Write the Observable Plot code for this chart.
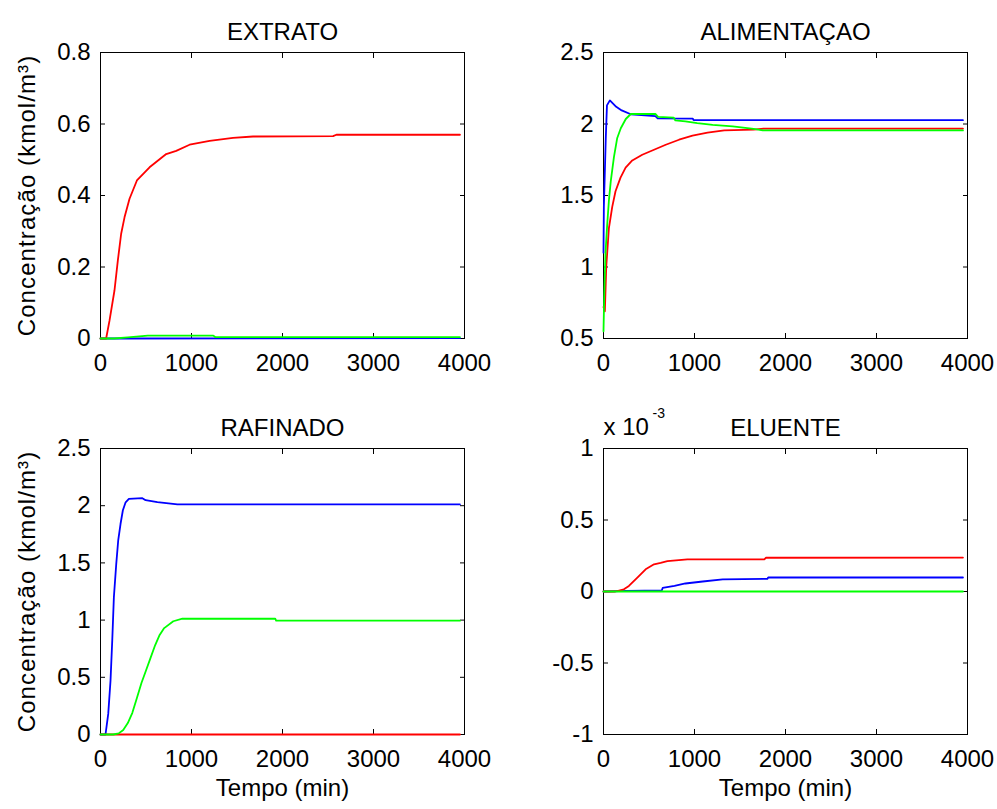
<!DOCTYPE html>
<html>
<head>
<meta charset="utf-8">
<script src="https://cdn.jsdelivr.net/npm/d3@7"></script>
<script src="https://cdn.jsdelivr.net/npm/@observablehq/plot@0.6"></script>
<style>
  body { margin: 0; background: #fff; }
  #fig { position: relative; width: 997px; height: 809px; background: #fff; overflow: hidden; }
  .cell { position: absolute; }
  .cell svg { overflow: visible; max-width: none; }
</style>
</head>
<body>
<div id="fig"></div>
<script>
// Time axis (min)
const tempoTicks = [0, 1000, 2000, 3000, 4000];

// Panel titles and axis texts
const titles = ["EXTRATO", "ALIMENTAÇAO", "RAFINADO", "ELUENTE"];
const yLabel = "Concentração (kmol/m³)";
const xLabel = "Tempo (min)";

// Y tick values per panel
const extratoTicks = [0, 0.2, 0.4, 0.6, 0.8];
const alimentacaoTicks = [0.5, 1, 1.5, 2, 2.5];
const rafinadoTicks = [0, 0.5, 1, 1.5, 2, 2.5];
const eluenteTicks = [-1, -0.5, 0, 0.5, 1];

// EXTRATO concentrations [t (min), C (kmol/m³)]
const extratoRed = [[0,0],[62,0],[99,0.05],[154,0.135],[191,0.219],[227,0.293],[264,0.339],[319,0.391],[400,0.442],[539,0.479],[722,0.516],[832,0.525],[979,0.542],[1199,0.553],[1456,0.561],[1676,0.565],[2556,0.566],[2592,0.570],[3950,0.570]];
const extratoGreen = [[0,0],[150,0],[300,0.003],[520,0.008],[1240,0.008],[1260,0.004],[3950,0.004]];
const extratoBlue = [[0,0],[250,0],[3950,0.001]];

// ALIMENTAÇAO concentrations
const alimentacaoBlue = [[0,1.1],[4,1.42],[25,1.9],[38,2.13],[70,2.165],[140,2.12],[200,2.095],[300,2.068],[570,2.055],[595,2.04],[980,2.038],[990,2.027],[3950,2.027]];
const alimentacaoGreen = [[0,0.55],[8,0.8],[22,1.1],[40,1.29],[60,1.47],[80,1.6],[115,1.77],[150,1.9],[190,1.97],[245,2.035],[300,2.07],[570,2.07],[600,2.05],[770,2.045],[790,2.025],[900,2.018],[1030,2.006],[1200,1.994],[1420,1.983],[1650,1.966],[1750,1.955],[3950,1.955]];
const alimentacaoRed = [[0,0.72],[15,0.69],[30,1.0],[59,1.27],[96,1.42],[132,1.53],[187,1.625],[243,1.695],[316,1.745],[426,1.785],[555,1.82],[684,1.855],[830,1.89],[978,1.918],[1143,1.94],[1327,1.955],[1650,1.96],[1760,1.968],[3950,1.968]];

// RAFINADO concentrations
const rafinadoBlue = [[0,0],[55,0],[85,0.18],[110,0.47],[129,0.82],[147,1.2],[173,1.49],[195,1.7],[220,1.84],[246,1.96],[276,2.03],[312,2.06],[460,2.066],[496,2.048],[625,2.031],[845,2.012],[3950,2.012]];
const rafinadoGreen = [[0,0],[140,0],[200,0.01],[250,0.04],[300,0.1],[350,0.19],[400,0.32],[450,0.45],[500,0.56],[550,0.67],[600,0.78],[650,0.87],[700,0.93],[800,0.99],[900,1.012],[1920,1.012],[1930,0.995],[3950,0.995]];
const rafinadoRed = [[0,0],[3950,0]];

// ELUENTE concentrations, in units of 10^-3 kmol/m³
const eluenteBlue = [[0,0],[260,0.004],[640,0.007],[650,0.025],[780,0.04],[900,0.056],[1090,0.07],[1310,0.085],[1800,0.088],[1810,0.098],[3950,0.098]];
const eluenteRed = [[0,0],[130,0],[224,0.015],[279,0.039],[372,0.097],[463,0.155],[555,0.19],[628,0.2],[702,0.212],[922,0.224],[1767,0.225],[1786,0.236],[3950,0.237]];
const eluenteGreen = [[0,0],[3950,0]];

const FONT = "'Liberation Sans', Arial, Helvetica, sans-serif";
const FS = 24;
const TICK = 5;
const fmt = d => String(d);

function panel({left, top, width, height, margin, title, yDomain, yTicks, series, showYLabel, showXLabel, exponent}) {
  const [mt, mr, mb, ml] = margin;
  const marks = [
    Plot.frame({stroke: "black", strokeWidth: 1}),
    // tick labels
    Plot.axisX(tempoTicks, {anchor: "bottom", tickSize: 0, tickPadding: 15, tickFormat: fmt, label: null, fontSize: FS, fill: "black"}),
    Plot.axisY(yTicks, {anchor: "left", tickSize: 0, tickPadding: 10, tickFormat: fmt, label: null, fontSize: FS, fill: "black"}),
    // inward tick marks on all four sides of the box
    Plot.axisX(tempoTicks, {anchor: "bottom", tickSize: TICK, insetBottom: TICK, fill: "none", stroke: "black", label: null}),
    Plot.axisX(tempoTicks, {anchor: "top", tickSize: TICK, insetTop: TICK, fill: "none", stroke: "black", label: null}),
    Plot.axisY(yTicks, {anchor: "left", tickSize: TICK, insetLeft: TICK, fill: "none", stroke: "black", label: null}),
    Plot.axisY(yTicks, {anchor: "right", tickSize: TICK, insetRight: TICK, fill: "none", stroke: "black", label: null}),
    ...series.map(([data, color]) => Plot.line(data, {x: d => d[0], y: d => d[1], stroke: color, strokeWidth: 1.8})),
    Plot.text([title], {text: d => d, frameAnchor: "top", dy: -30, fontSize: FS, fill: "black"})
  ];
  if (showYLabel) {
    marks.push(Plot.text([yLabel], {text: d => d, frameAnchor: "left", textAnchor: "middle", rotate: -90, dx: -73, fontSize: FS, fill: "black"}));
  }
  if (showXLabel) {
    marks.push(Plot.text([xLabel], {text: d => d, frameAnchor: "bottom", dy: 61, fontSize: FS, fill: "black"}));
  }
  if (exponent) {
    marks.push(Plot.text(["x 10"], {text: d => d, frameAnchor: "top-left", textAnchor: "start", lineAnchor: "bottom", dy: -14, fontSize: FS, fill: "black"}));
    marks.push(Plot.text(["-3"], {text: d => d, frameAnchor: "top-left", textAnchor: "start", lineAnchor: "bottom", dx: 49, dy: -31, fontSize: 14, fill: "black"}));
  }
  const svg = Plot.plot({
    width, height,
    marginTop: mt, marginRight: mr, marginBottom: mb, marginLeft: ml,
    style: {background: "transparent", fontFamily: FONT, fontSize: FS + "px", color: "black"},
    x: {domain: [0, 4000]},
    y: {domain: yDomain},
    marks
  });
  // slightly wider tracking for the rotated concentration label
  d3.select(svg).selectAll("text")
    .filter(function () { return this.textContent === yLabel; })
    .style("letter-spacing", "1.1px");
  const cell = document.createElement("div");
  cell.className = "cell";
  cell.style.left = left + "px";
  cell.style.top = top + "px";
  cell.style.width = width + "px";
  cell.style.height = height + "px";
  cell.appendChild(svg);
  document.getElementById("fig").appendChild(cell);
}

panel({left: 0, top: 0, width: 497, height: 400, margin: [52, 33, 62, 100], title: titles[0],
  yDomain: [0, 0.8], yTicks: extratoTicks, showYLabel: true,
  series: [[extratoBlue, "#0000ff"], [extratoRed, "#ff0000"], [extratoGreen, "#00ff00"]]});

panel({left: 497, top: 0, width: 500, height: 400, margin: [52, 30, 62, 106], title: titles[1],
  yDomain: [0.5, 2.5], yTicks: alimentacaoTicks,
  series: [[alimentacaoBlue, "#0000ff"], [alimentacaoRed, "#ff0000"], [alimentacaoGreen, "#00ff00"]]});

panel({left: 0, top: 400, width: 497, height: 409, margin: [48, 33, 75, 100], title: titles[2],
  yDomain: [0, 2.5], yTicks: rafinadoTicks, showYLabel: true, showXLabel: true,
  series: [[rafinadoBlue, "#0000ff"], [rafinadoRed, "#ff0000"], [rafinadoGreen, "#00ff00"]]});

panel({left: 497, top: 400, width: 500, height: 409, margin: [48, 30, 75, 106], title: titles[3],
  yDomain: [-1, 1], yTicks: eluenteTicks, showXLabel: true, exponent: true,
  series: [[eluenteBlue, "#0000ff"], [eluenteRed, "#ff0000"], [eluenteGreen, "#00ff00"]]});
</script>
</body>
</html>
